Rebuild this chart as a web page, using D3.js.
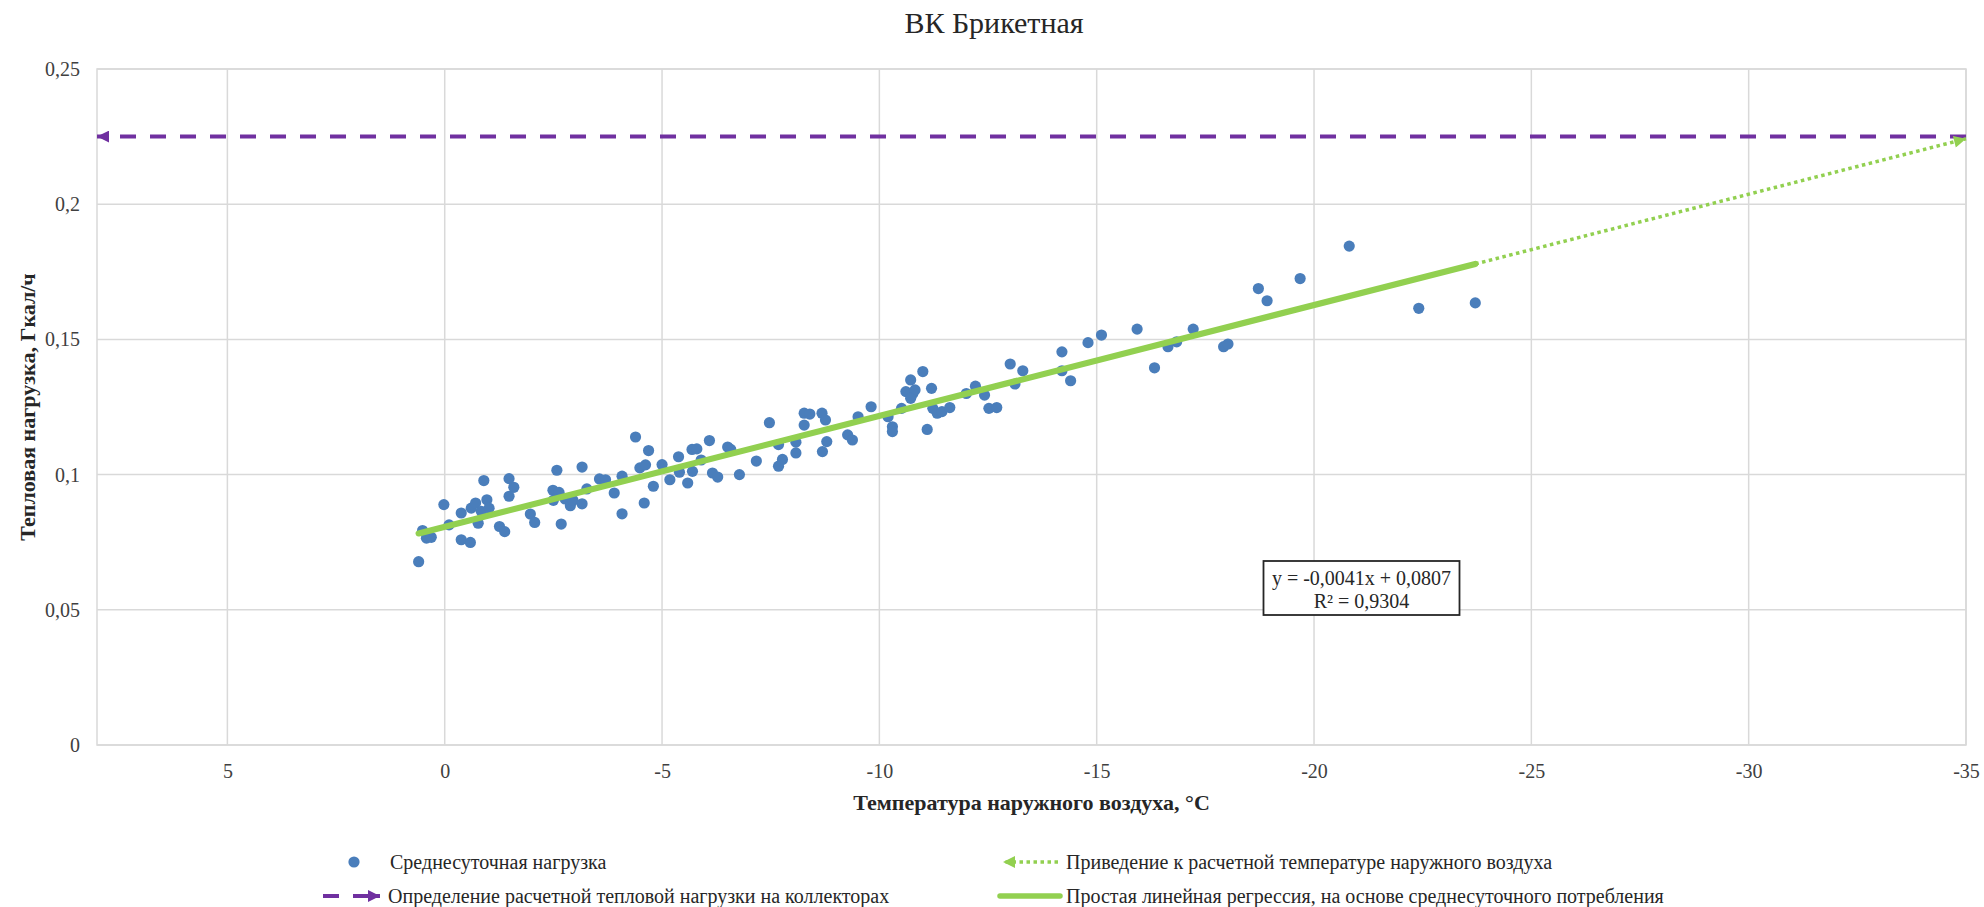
<!DOCTYPE html>
<meta charset="utf-8">
<style>
  body { margin: 0; background: #fff; }
  svg text { font-family: "Liberation Serif", "Times New Roman", serif; }
  .grid line { stroke: #d9d9d9; stroke-width: 1.5; }
  .tick text { fill: #404040; font-size: 20px; }
</style>
<body>
<svg id="chart" width="1984" height="907"></svg>
<script src="https://d3js.org/d3.v7.min.js"></script>
<script>
  // среднесуточные точки: температура наружного воздуха, °C
  var temps = [0.6, 0.51, 0.42, 0.31, 0.02, -0.1, -0.38, -0.38, -0.59, -0.61,
    -0.71, -0.77, -0.84, -0.9, -0.97, -1.02, -1.26, -1.38, -1.48, -1.59,
    -1.48, -1.97, -2.07, -2.58, -2.49, -2.63, -2.5, -2.68, -2.77, -2.89,
    -2.95, -3.16, -3.16, -3.27, -3.56, -3.7, -3.9, -4.08, -4.08, -4.39,
    -4.49, -4.62, -4.59, -4.69, -4.8, -5.0, -5.18, -5.38, -5.4, -5.59,
    -5.69, -5.8, -5.7, -5.9, -6.09, -6.16, -6.28, -6.51, -6.58, -6.78,
    -7.17, -7.47, -7.68, -7.68, -7.77, -8.08, -8.08, -8.27, -8.4, -8.27,
    -8.68, -8.76, -8.79, -8.69, -9.27, -9.38, -9.51, -9.81, -10.2, -10.3,
    -10.3, -10.51, -10.61, -10.72, -10.77, -10.82, -10.72, -11.0, -11.1, -11.2,
    -11.23, -11.33, -11.44, -11.62, -12.0, -12.21, -12.42, -12.52, -12.7, -13.01,
    -13.12, -13.3, -14.2, -14.2, -14.4, -14.8, -15.11, -15.93, -16.33, -16.64,
    -16.84, -17.22, -17.92, -18.02, -18.72, -18.92, -19.68, -20.81, -22.41, -23.71];
  // тепловая нагрузка, Гкал/ч
  var loads = [0.0678, 0.0793, 0.0765, 0.0768, 0.0889, 0.0814, 0.0858, 0.0759, 0.0749, 0.0876,
    0.0895, 0.082, 0.0864, 0.0978, 0.0907, 0.0876, 0.0808, 0.0789, 0.0985, 0.0953,
    0.092, 0.0854, 0.0823, 0.1016, 0.0942, 0.0934, 0.0905, 0.0817, 0.091, 0.0885,
    0.0905, 0.1028, 0.0892, 0.0947, 0.0984, 0.0981, 0.0932, 0.0994, 0.0855, 0.1139,
    0.1025, 0.1036, 0.0895, 0.1089, 0.0957, 0.1037, 0.0981, 0.1066, 0.1009, 0.0969,
    0.1093, 0.1095, 0.1012, 0.1054, 0.1126, 0.1006, 0.0991, 0.1102, 0.1093, 0.1,
    0.105, 0.1192, 0.1111, 0.1031, 0.1056, 0.108, 0.112, 0.1227, 0.1224, 0.1183,
    0.1227, 0.1202, 0.1122, 0.1085, 0.1147, 0.1128, 0.1214, 0.1251, 0.1214, 0.1177,
    0.1159, 0.1245, 0.1307, 0.135, 0.13, 0.1313, 0.1282, 0.1381, 0.1167, 0.1319,
    0.1245, 0.1227, 0.1233, 0.1248, 0.13, 0.1327, 0.1294, 0.1245, 0.1248, 0.1409,
    0.1335, 0.1384, 0.1454, 0.1384, 0.1347, 0.1488, 0.1516, 0.1538, 0.1395, 0.1473,
    0.1491, 0.1538, 0.1473, 0.1483, 0.1688, 0.1643, 0.1725, 0.1845, 0.1615, 0.1635];

  var slope = -0.0041, intercept = 0.0807, r2 = 0.9304;
  var designTemp = -35;      // расчетная температура наружного воздуха
  var designLoad = 0.225;    // расчетная тепловая нагрузка

  var xTicks = [5, 0, -5, -10, -15, -20, -25, -30, -35];
  var yTicks = [0, 0.05, 0.1, 0.15, 0.2, 0.25];
  var xDomain = [8, -35];
  var yDomain = [0, 0.25];

  var legendLabels = ["Среднесуточная нагрузка",
    "Определение расчетной тепловой нагрузки на коллекторах",
    "Приведение к расчетной температуре наружного воздуха",
    "Простая линейная  регрессия, на основе среднесуточного потребления"];

  var blue = "#4a7ebb", purple = "#7030a0", green = "#92d050";
  var pLeft = 97, pRight = 1966, pTop = 69, pBottom = 745;
  var comma = function (v) { return String(v).replace(".", ","); };

  var svg = d3.select("#chart");
  var x = d3.scaleLinear().domain(xDomain).range([pLeft, pRight]);
  var y = d3.scaleLinear().domain(yDomain).range([pBottom, pTop]);

  var defs = svg.append("defs");
  function arrow(id, color) {
    defs.append("marker")
      .attr("id", id)
      .attr("viewBox", "0 0 10 10")
      .attr("refX", 10).attr("refY", 5)
      .attr("markerUnits", "userSpaceOnUse")
      .attr("markerWidth", 13).attr("markerHeight", 12)
      .attr("orient", "auto")
      .append("path").attr("d", "M0,0 L10,5 L0,10 z").attr("fill", color);
  }
  arrow("arPurple", purple);
  arrow("arGreen", green);

  // title
  svg.append("text")
    .attr("x", 994).attr("y", 33)
    .attr("text-anchor", "middle")
    .attr("font-size", 30)
    .attr("fill", "#262626")
    .text("ВК Брикетная");

  // grid
  var grid = svg.append("g").attr("class", "grid");
  grid.selectAll("line.v").data(xTicks).enter().append("line")
    .attr("x1", d => x(d)).attr("x2", d => x(d))
    .attr("y1", pTop).attr("y2", pBottom);
  grid.selectAll("line.h").data(yTicks).enter().append("line")
    .attr("x1", pLeft).attr("x2", pRight)
    .attr("y1", d => y(d)).attr("y2", d => y(d));
  svg.append("rect")
    .attr("x", pLeft).attr("y", pTop)
    .attr("width", pRight - pLeft).attr("height", pBottom - pTop)
    .attr("fill", "none").attr("stroke", "#d9d9d9").attr("stroke-width", 1.5);

  // axes (labels only)
  svg.append("g")
    .attr("transform", "translate(0," + pBottom + ")")
    .call(d3.axisBottom(x).tickValues(xTicks).tickSize(0).tickPadding(19).tickFormat(comma));
  svg.append("g")
    .attr("transform", "translate(" + pLeft + ",0)")
    .call(d3.axisLeft(y).tickValues(yTicks).tickSize(0).tickPadding(17).tickFormat(comma));
  svg.selectAll(".domain").remove();
  svg.selectAll(".tick text").attr("font-family", null);

  svg.append("text")
    .attr("x", (pLeft + pRight) / 2).attr("y", 810)
    .attr("text-anchor", "middle")
    .attr("font-size", 22).attr("font-weight", "bold")
    .attr("fill", "#262626")
    .text("Температура наружного воздуха, °C");
  svg.append("text")
    .attr("transform", "translate(27," + (pTop + pBottom) / 2 + ") rotate(-90)")
    .attr("dy", "0.35em")
    .attr("text-anchor", "middle")
    .attr("font-size", 22).attr("font-weight", "bold")
    .attr("fill", "#262626")
    .text("Тепловая нагрузка, Гкал/ч");

  // расчетная нагрузка
  svg.append("line")
    .attr("x1", x(designTemp)).attr("x2", x(xDomain[0]))
    .attr("y1", y(designLoad)).attr("y2", y(designLoad))
    .attr("stroke", purple).attr("stroke-width", 4)
    .attr("stroke-dasharray", "16,14")
    .attr("marker-end", "url(#arPurple)");

  // points
  var pts = temps.map(function (t, i) { return {t: t, q: loads[i]}; });
  svg.append("g").selectAll("circle").data(pts).enter().append("circle")
    .attr("cx", d => x(d.t)).attr("cy", d => y(d.q))
    .attr("r", 5.6).attr("fill", blue);

  // regression
  var fit = function (t) { return slope * t + intercept; };
  var tMax = d3.max(temps), tMin = d3.min(temps);
  svg.append("line")
    .attr("x1", x(tMin)).attr("y1", y(fit(tMin)))
    .attr("x2", x(designTemp)).attr("y2", y(fit(designTemp)))
    .attr("stroke", green).attr("stroke-width", 3.5)
    .attr("stroke-dasharray", "3.5,3.5")
    .attr("marker-end", "url(#arGreen)");
  svg.append("line")
    .attr("x1", x(tMax)).attr("y1", y(fit(tMax)))
    .attr("x2", x(tMin)).attr("y2", y(fit(tMin)))
    .attr("stroke", green).attr("stroke-width", 6.2)
    .attr("stroke-linecap", "round");

  // equation box
  var eq = svg.append("g");
  eq.append("rect")
    .attr("x", 1263.5).attr("y", 561).attr("width", 196).attr("height", 54)
    .attr("fill", "#fff").attr("stroke", "#262626").attr("stroke-width", 1.8);
  eq.append("text").attr("x", 1361.5).attr("y", 585)
    .attr("text-anchor", "middle").attr("font-size", 20).attr("fill", "#262626")
    .text("y = " + comma(slope) + "x + " + comma(intercept));
  eq.append("text").attr("x", 1361.5).attr("y", 608)
    .attr("text-anchor", "middle").attr("font-size", 20).attr("fill", "#262626")
    .text("R² = " + comma(r2));

  // legend
  var lg = svg.append("g").attr("font-size", 20).attr("fill", "#262626");
  var row1 = 862, row2 = 896;
  lg.append("circle").attr("cx", 354).attr("cy", row1).attr("r", 5.6).attr("fill", blue);
  lg.append("line").attr("x1", 323).attr("x2", 339).attr("y1", row2).attr("y2", row2)
    .attr("stroke", purple).attr("stroke-width", 4);
  lg.append("line").attr("x1", 353).attr("x2", 380).attr("y1", row2).attr("y2", row2)
    .attr("stroke", purple).attr("stroke-width", 4).attr("marker-end", "url(#arPurple)");
  lg.append("line").attr("x1", 1058).attr("x2", 1003).attr("y1", row1).attr("y2", row1)
    .attr("stroke", green).attr("stroke-width", 3.5).attr("stroke-dasharray", "3.5,3.5")
    .attr("marker-end", "url(#arGreen)");
  lg.append("line").attr("x1", 1000).attr("x2", 1060).attr("y1", row2).attr("y2", row2)
    .attr("stroke", green).attr("stroke-width", 5.5).attr("stroke-linecap", "round");

  var lx = [390, 388, 1066, 1066], ly = [row1, row2, row1, row2];
  lg.selectAll("text").data(legendLabels).enter().append("text")
    .attr("x", (d, i) => lx[i]).attr("y", (d, i) => ly[i])
    .attr("dy", "0.35em")
    .attr("fill", "#262626")
    .text(d => d);
</script>
</body>
